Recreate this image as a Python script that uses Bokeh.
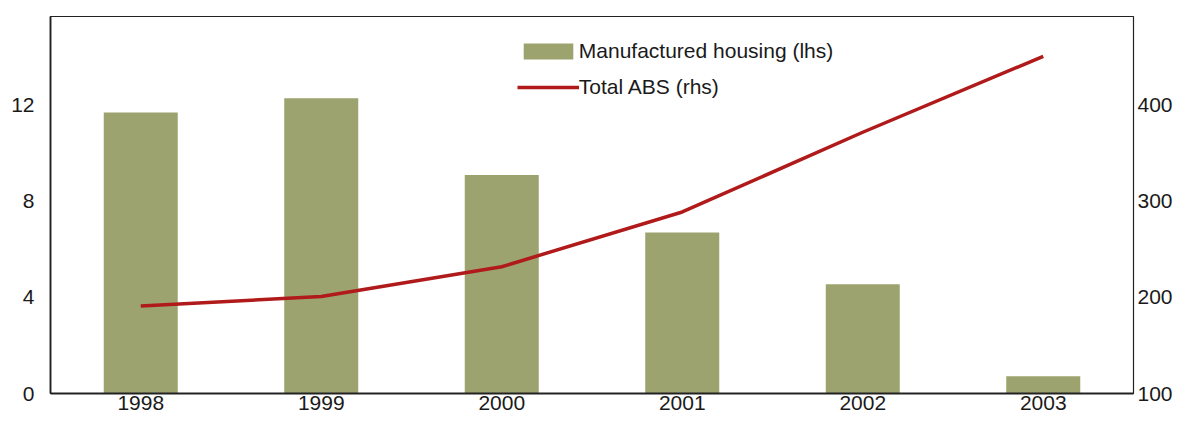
from bokeh.plotting import figure
from bokeh.models import FactorRange, Range1d, LinearAxis, FixedTicker, Legend, LegendItem
from bokeh.embed import file_html
from bokeh.resources import INLINE

years = ["1998", "1999", "2000", "2001", "2002", "2003"]
manufactured_housing = [11.7, 12.3, 9.1, 6.7, 4.55, 0.72]
total_abs = [191, 201, 232, 289, 372, 451]
left_ticks = [0, 4, 8, 12]
right_ticks = [100, 200, 300, 400]

BAR = "#9ca36f"
LINE = "#b01a1a"
TXT = "#1a1a1a"
FONT = "Liberation Sans"

p = figure(x_range=FactorRange(*years, range_padding=0), y_range=Range1d(0, 15.7),
           width=1175, height=419, output_backend="svg", toolbar_location=None,
           min_border_left=50, min_border_right=40, min_border_top=16, min_border_bottom=26)
p.extra_y_ranges = {"r": Range1d(100, 492.5)}

bars = p.vbar(x=years, top=manufactured_housing, width=0.41, fill_color=BAR, line_color=None)
line = p.line(x=years, y=total_abs, y_range_name="r", line_color=LINE, line_width=3.5)

p.xgrid.visible = False
p.ygrid.visible = False
p.outline_line_color = "#222222"
p.outline_line_width = 1.2

raxis = LinearAxis(y_range_name="r")
p.add_layout(raxis, "right")

p.yaxis[0].ticker = FixedTicker(ticks=left_ticks)
raxis.ticker = FixedTicker(ticks=right_ticks)

for ax in [p.xaxis[0], p.yaxis[0], raxis]:
    ax.major_tick_line_color = None
    ax.minor_tick_line_color = None
    ax.major_tick_out = 0
    ax.major_tick_in = 0
    ax.major_label_text_font = FONT
    ax.major_label_text_font_size = "21px"
    ax.major_label_text_color = TXT
    ax.axis_line_color = "#222222"
    ax.axis_line_width = 1.8

raxis.axis_line_color = None
p.yaxis[0].major_label_standoff = 16
raxis.major_label_standoff = 4
p.xaxis[0].major_label_standoff = 2

legend = Legend(items=[LegendItem(label="Manufactured housing (lhs)", renderers=[bars]),
                       LegendItem(label="Total ABS (rhs)", renderers=[line])],
                location=(466.8, 294), glyph_width=62, glyph_height=20, label_standoff=0,
                spacing=12, padding=0, margin=0, border_line_color=None,
                background_fill_alpha=0, label_text_font=FONT, label_text_font_size="21px",
                label_text_color=TXT)
p.add_layout(legend)

open("out.html", "w").write(file_html(p, INLINE))
